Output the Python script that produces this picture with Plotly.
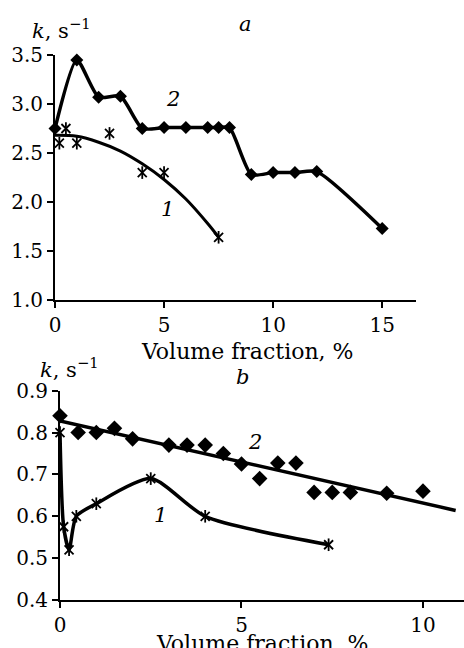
import plotly.graph_objects as go

# ---------- Panel a ----------
a_x2 = [0, 1, 2, 3, 4, 5, 6, 7, 7.5, 8, 9, 10, 11, 12, 15]
a_y2 = [2.75, 3.45, 3.07, 3.08, 2.75, 2.76, 2.76, 2.76, 2.76, 2.76, 2.28, 2.30, 2.30, 2.31, 1.73]

a_x1 = [0.2, 0.5, 1.0, 2.5, 4.0, 5.0, 7.5]
a_y1 = [2.60, 2.75, 2.60, 2.70, 2.30, 2.30, 1.64]

a_fit_x = [0, 1, 2, 3, 4, 5, 6, 7, 7.5]
a_fit_y = [2.68, 2.67, 2.61, 2.52, 2.39, 2.23, 2.03, 1.78, 1.64]

a_xticks = [0, 5, 10, 15]
a_yticks = [1.0, 1.5, 2.0, 2.5, 3.0, 3.5]

# ---------- Panel b ----------
b_x2 = [0, 0.5, 1, 1.5, 2, 3, 3.5, 4, 4.5, 5, 5.5, 6, 6.5, 7, 7.5, 8, 9, 10]
b_y2 = [0.84, 0.80, 0.80, 0.81, 0.785, 0.77, 0.77, 0.77, 0.75, 0.725, 0.69, 0.727,
        0.727, 0.657, 0.657, 0.657, 0.655, 0.66]

b_fit2_x = [0, 10.9]
b_fit2_y = [0.828, 0.614]

b_x1 = [0, 0.1, 0.25, 0.45, 1.0, 2.5, 4.0, 7.4]
b_y1 = [0.80, 0.575, 0.52, 0.60, 0.63, 0.69, 0.60, 0.532]

b_xticks = [0, 5, 10]
b_yticks = [0.4, 0.5, 0.6, 0.7, 0.8, 0.9]

FONT = "DejaVu Serif"
W, H = 464, 648

fig = go.Figure()


def star(x, y, xa, ya):
    for sym in ("x-thin-open", "line-ns-open"):
        fig.add_trace(go.Scatter(x=x, y=y, mode="markers",
                                 marker=dict(symbol=sym, size=9, color="black",
                                             line=dict(color="black", width=1.8)),
                                 xaxis=xa, yaxis=ya, cliponaxis=False, showlegend=False))


# panel a traces
fig.add_trace(go.Scatter(x=a_fit_x, y=a_fit_y, mode="lines", line=dict(color="black", width=3, shape="spline"),
                         xaxis="x", yaxis="y", cliponaxis=False, showlegend=False))
star(a_x1, a_y1, "x", "y")
fig.add_trace(go.Scatter(x=a_x2, y=a_y2, mode="lines+markers",
                         line=dict(color="black", width=3.5, shape="spline", smoothing=0.6),
                         marker=dict(symbol="diamond", size=10, color="black"),
                         xaxis="x", yaxis="y", cliponaxis=False, showlegend=False))

# panel b traces
fig.add_trace(go.Scatter(x=b_fit2_x, y=b_fit2_y, mode="lines", line=dict(color="black", width=3.5),
                         xaxis="x2", yaxis="y2", cliponaxis=False, showlegend=False))
fig.add_trace(go.Scatter(x=b_x2, y=b_y2, mode="markers",
                         marker=dict(symbol="diamond", size=12, color="black"),
                         xaxis="x2", yaxis="y2", cliponaxis=False, showlegend=False))
fig.add_trace(go.Scatter(x=b_x1, y=b_y1, mode="lines", line=dict(color="black", width=3.5, shape="spline", smoothing=0.7),
                         xaxis="x2", yaxis="y2", cliponaxis=False, showlegend=False))
star(b_x1, b_y1, "x2", "y2")

axis_common = dict(showline=True, linecolor="black", linewidth=2, showgrid=False, zeroline=False,
                   ticks="outside", ticklen=6, tickwidth=2, tickcolor="black", automargin=False,
                   tickfont=dict(family=FONT, size=20, color="black"))

fig.update_layout(
    width=W, height=H,
    margin=dict(l=0, r=0, t=0, b=0, pad=0),
    paper_bgcolor="white", plot_bgcolor="white",
    xaxis=dict(domain=[55 / W, 416 / W], range=[0, 16.55], tickvals=a_xticks,
               ticktext=[str(v) for v in a_xticks], anchor="y", **axis_common),
    yaxis=dict(domain=[1 - 300 / H, 1 - 55 / H], range=[1.0, 3.5], tickvals=a_yticks,
               ticktext=[f"{v:.1f}" for v in a_yticks], anchor="x", **axis_common),
    xaxis2=dict(domain=[60 / W, 1.0], range=[0, 11.13], tickvals=b_xticks,
                ticktext=[str(v) for v in b_xticks], anchor="y2", **axis_common),
    yaxis2=dict(domain=[1 - 600 / H, 1 - 390.7 / H], range=[0.4, 0.9], tickvals=b_yticks,
                ticktext=[f"{v:.1f}" for v in b_yticks], anchor="x2", **axis_common),
)


def ann(text, px, py, size=21, italic=False):
    t = f"<i>{text}</i>" if italic else text
    fig.add_annotation(text=t, x=px / W, y=1 - py / H, xref="paper", yref="paper",
                       xanchor="center", yanchor="middle", showarrow=False,
                       font=dict(family=FONT, size=size, color="black"))


ytitle = "<i>k</i>, s<sup>−1</sup>"
ann(ytitle, 62, 29, size=21)
ann("a", 245, 24, italic=True)
ann("2", 173, 99, italic=True)
ann("1", 167, 209, italic=True)
ann("Volume fraction, %", 247, 351, size=22)

ann(ytitle, 69, 368, size=21)
ann("b", 242, 377, italic=True)
ann("2", 255, 442, italic=True)
ann("1", 160, 515, italic=True)
ann("Volume fraction, %", 262, 643, size=22)

fig.write_html("out.html", config={"displayModeBar": False},
               post_script="document.body.style.margin='0';document.body.style.overflow='hidden';")
